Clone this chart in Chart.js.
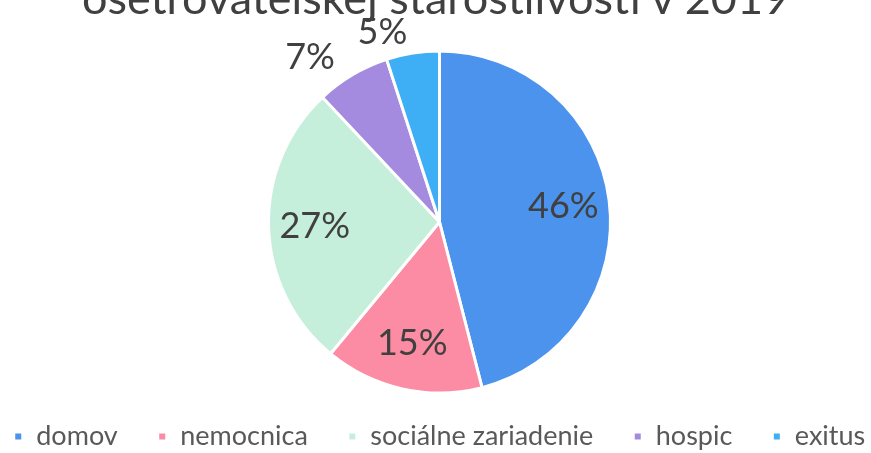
<!DOCTYPE html>
<html>
<head>
<meta charset="utf-8">
<script src="https://cdn.jsdelivr.net/npm/chart.js@4.4.0/dist/chart.umd.min.js"></script>
<style>
  html, body { margin: 0; padding: 0; background: #ffffff; overflow: hidden; }
  #wrap { position: relative; width: 871px; height: 453px; overflow: hidden; }
  #title { position: absolute; left: 0; width: 871px; top: -28px; text-align: center;
           font-family: Lato, "Open Sans", sans-serif; font-size: 45px; color: #404040;
           white-space: nowrap; line-height: 50px; }
  canvas { position: absolute; left: 4px; top: 0; }
</style>
</head>
<body>
<div id="wrap">
  <canvas id="c" width="871" height="453"></canvas>
  <div id="title">ošetrovateľskej starostlivosti v 2019</div>
</div>
<script>
const categories = ["domov", "nemocnica", "sociálne zariadenie", "hospic", "exitus"];
const values = [46, 15, 27, 7, 5];
const labelTexts = ["46%", "15%", "27%", "7%", "5%"];
const colors = ["#4B93EC", "#FB8CA4", "#C5EEDB", "#A58BE0", "#3FAFF5"];

const labelPlugin = {
  id: "sliceLabels",
  afterDatasetsDraw(chart) {
    const ctx = chart.ctx;
    const meta = chart.getDatasetMeta(0);
    ctx.save();
    ctx.font = "36px Lato, 'Open Sans', sans-serif";
    ctx.fillStyle = "#404040";
    ctx.textAlign = "center";
    ctx.textBaseline = "middle";
    meta.data.forEach((arc, i) => {
      const p = arc.getProps(["x", "y", "startAngle", "endAngle", "outerRadius"], true);
      const mid = (p.startAngle + p.endAngle) / 2;
      let x, y;
      if (values[i] < 10) {
        x = p.x + Math.cos(mid) * p.outerRadius * 1.2 - 25;
        y = p.y + Math.sin(mid) * p.outerRadius * 1.12;
      } else {
        x = p.x + Math.cos(mid) * p.outerRadius * 0.73;
        y = p.y + Math.sin(mid) * p.outerRadius * 0.73;
      }
      ctx.fillText(labelTexts[i], x, y);
    });
    ctx.restore();
  }
};

new Chart(document.getElementById("c"), {
  type: "pie",
  data: {
    labels: categories,
    datasets: [{
      data: values,
      backgroundColor: colors,
      borderColor: "#ffffff",
      borderWidth: 3,
      radius: 171
    }]
  },
  options: {
    responsive: false,
    animation: false,
    layout: { padding: { top: 61, bottom: 0, left: -40, right: -40 } },
    plugins: {
      tooltip: { enabled: false },
      title: { display: false },
      legend: {
        position: "bottom",
        maxHeight: 70,
        labels: {
          boxWidth: 9,
          boxHeight: 9,
          padding: 40,
          color: "#595959",
          font: { family: "Lato, 'Open Sans', sans-serif", size: 27 }
        }
      }
    }
  },
  plugins: [labelPlugin]
});
</script>
</body>
</html>
